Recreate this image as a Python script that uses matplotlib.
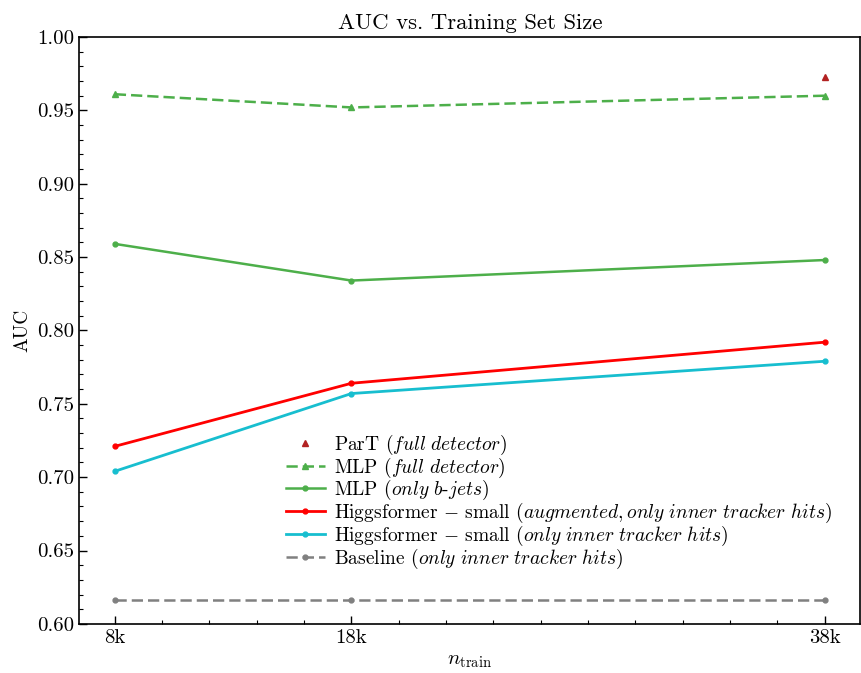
import matplotlib
matplotlib.use("Agg")
import matplotlib.pyplot as plt
from matplotlib.ticker import FixedLocator, MultipleLocator, FuncFormatter

plt.rcParams["font.family"] = "serif"
plt.rcParams["font.serif"] = ["cmr10"]
plt.rcParams["mathtext.fontset"] = "cm"
plt.rcParams["axes.formatter.use_mathtext"] = True
plt.rcParams["font.size"] = 14

# training set sizes (thousands)
n_train = [8, 18, 38]
tick_labels = ["8k", "18k", "38k"]

part_x = [38]
part_auc = [0.973]
mlp_full = [0.961, 0.952, 0.960]
mlp_bjets = [0.859, 0.834, 0.848]
hf_aug = [0.721, 0.764, 0.792]
hf_small = [0.704, 0.757, 0.779]
baseline = [0.616, 0.616, 0.616]

fig, ax = plt.subplots(figsize=(8.62, 6.73), dpi=100)
fig.subplots_adjust(left=0.092, right=0.998, top=0.945, bottom=0.073)

ax.plot(part_x, part_auc, "^", color="#b22222", markersize=4,
        linestyle="none", label=r"ParT ($\mathit{full\ detector}$)")
ax.plot(n_train, mlp_full, "--^", color="#4daf4a", markersize=4, lw=1.8,
        dashes=(4.5, 2), label=r"MLP ($\mathit{full\ detector}$)")
ax.plot(n_train, mlp_bjets, "-o", color="#4daf4a", markersize=3.5, lw=1.8,
        label=r"MLP ($\mathit{only\ b}$-$\mathit{jets}$)")
ax.plot(n_train, hf_aug, "-o", color="red", markersize=3.5, lw=2,
        label=r"Higgsformer $-$ small ($\mathit{augmented}, \mathit{only\ inner\ tracker\ hits}$)")
ax.plot(n_train, hf_small, "-o", color="#17becf", markersize=3.5, lw=2,
        label=r"Higgsformer $-$ small ($\mathit{only\ inner\ tracker\ hits}$)")
ax.plot(n_train, baseline, "--o", color="gray", markersize=3.5, lw=1.8,
        dashes=(4.5, 2), label=r"Baseline ($\mathit{only\ inner\ tracker\ hits}$)")

ax.set_ylim(0.60, 1.00)
ax.xaxis.set_major_locator(FixedLocator(n_train))
ax.set_xticklabels(tick_labels)
ax.xaxis.set_minor_locator(MultipleLocator(2))
ax.yaxis.set_major_locator(MultipleLocator(0.05))
ax.yaxis.set_minor_locator(MultipleLocator(0.01))
ax.yaxis.set_major_formatter(FuncFormatter(lambda v, p: f"{v:.2f}"))

ax.tick_params(which="both", direction="in", top=False, right=False,
               labelsize=15)
ax.tick_params(which="major", length=6, width=1)
ax.tick_params(which="minor", length=3, width=0.8)
for s in ax.spines.values():
    s.set_linewidth(1.2)

ax.set_title("AUC vs. Training Set Size", fontsize=16.4)
ax.set_xlabel(r"$n_{\mathrm{train}}$", fontsize=15)
ax.set_ylabel("AUC", fontsize=14)

ax.legend(loc="upper left", bbox_to_anchor=(0.247, 0.349), frameon=False,
          fontsize=14, handlelength=2.0, handletextpad=0.5,
          labelspacing=-0.07, borderpad=0.2)

fig.savefig("out.png", dpi=100)
